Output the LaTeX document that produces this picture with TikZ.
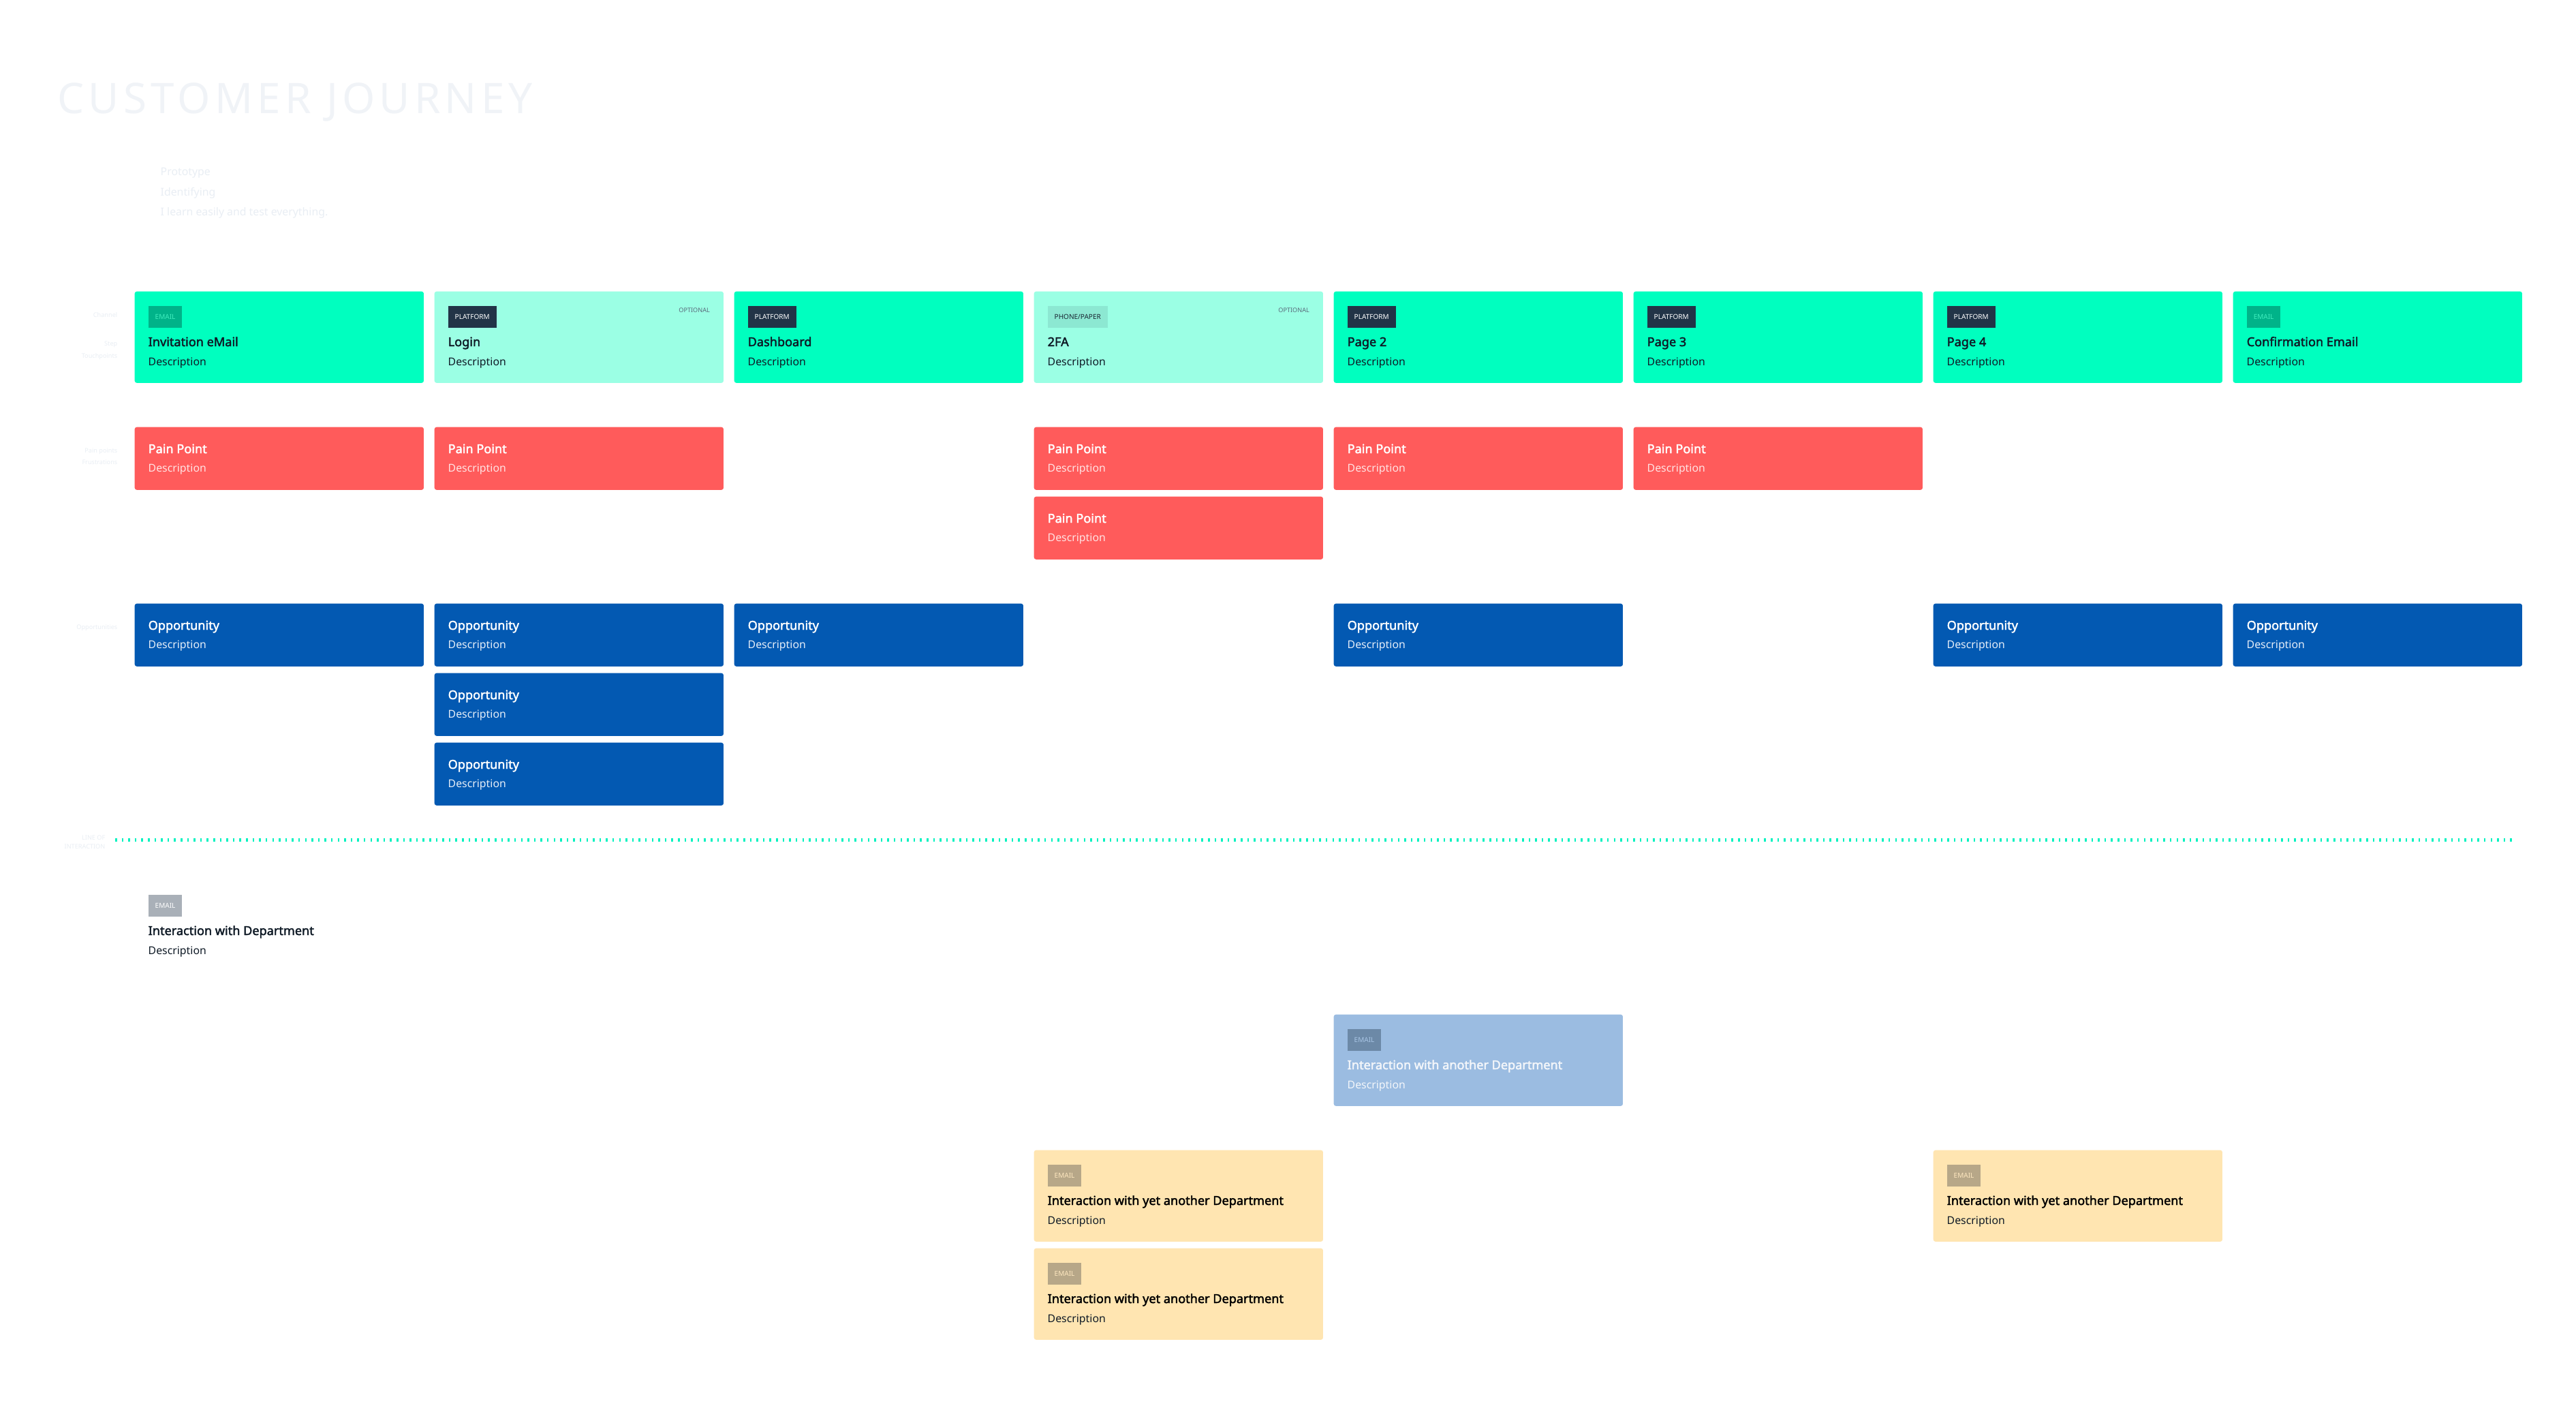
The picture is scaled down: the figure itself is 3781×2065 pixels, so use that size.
\documentclass[tikz,border=0pt]{standalone}
\usepackage{fontspec}
\setmainfont{Noto Sans}[BoldFont={Noto Sans}, BoldFeatures={FakeBold=2.2}]
\definecolor{tpgreen}{HTML}{00FFBF}
\definecolor{tplight}{HTML}{9BFFE4}
\definecolor{emailbg}{HTML}{00B389}
\definecolor{emailtx}{HTML}{40EDBE}
\definecolor{platbg}{HTML}{223447}
\definecolor{phonebg}{HTML}{8CE8D2}
\definecolor{phonetx}{HTML}{1A2733}
\definecolor{painred}{HTML}{FF5B5B}
\definecolor{paintx}{HTML}{FFE3E3}
\definecolor{oppblue}{HTML}{0359B2}
\definecolor{opptx}{HTML}{E6EEF8}
\definecolor{deptblue}{HTML}{9BBCE1}
\definecolor{deptbg}{HTML}{6C89A7}
\definecolor{depttx}{HTML}{A9C6E6}
\definecolor{deptttl}{HTML}{F3F6FA}
\definecolor{yel}{HTML}{FFE5B1}
\definecolor{yelbg}{HTML}{B7A788}
\definecolor{yeltx}{HTML}{FFE8C0}
\definecolor{graybg}{HTML}{A9B0B8}
\definecolor{darktx}{HTML}{0F1A26}
\definecolor{opttx}{HTML}{5A6B7B}
\definecolor{faint}{HTML}{E9EEF4}
\definecolor{dotcol}{HTML}{00F2C0}
\newcommand\ttlfont{\fontsize{5.15pt}{6pt}\selectfont\bfseries}
\newcommand\dscfont{\fontsize{4.5pt}{5.4pt}\selectfont}
\newcommand\tagfont{\fontsize{2.85pt}{3.4pt}\selectfont}
\newcommand\optfont{\fontsize{2.6pt}{3.1pt}\selectfont}
\newcommand\lblfont{\fontsize{2.6pt}{3.1pt}\selectfont}
\tikzset{
  card/.style={rounded corners=0.03cm, inner sep=0, minimum width=4.24cm, anchor=north west, draw=none},
  tpcard/.style={card, minimum height=1.34cm},
  smallcard/.style={card, minimum height=0.92cm},
  tagbox/.style={anchor=north west, inner xsep=0.1cm, inner ysep=0, minimum height=0.32cm, font=\tagfont, text height=2.1pt, text depth=0pt},
  ttl/.style={anchor=base west, inner sep=0, font=\ttlfont},
  dsc/.style={anchor=base west, inner sep=0, font=\dscfont},
  opt/.style={anchor=base east, inner sep=0, font=\optfont, text=opttx},
  lbl/.style={anchor=base east, inner sep=0, font=\lblfont, text=faint},
  dotline/.style={draw=dotcol, line width=0.05cm, dash pattern=on 0.025cm off 0.071cm},
}
% name, x, y, fill, tag style, tag text, title, title colour, desc colour
\newcommand\TPc[9]{%
  \node[tpcard, fill=#4] (#1) at (#2,#3) {};
  \node[tagbox, #5] (#1tag) at ([shift={(20,21)}]#1.north west) {#6};
  \node[ttl, text=#8] (#1ttl) at ([shift={(20,81)}]#1.north west) {#7};
  \node[dsc, text=#9] (#1dsc) at ([shift={(20,109)}]#1.north west) {Description};
}
% name, x, y, fill, title, title colour, desc colour
\newcommand\SMc[7]{%
  \node[smallcard, fill=#4] (#1) at (#2,#3) {};
  \node[ttl, text=#6] (#1ttl) at ([shift={(20,39)}]#1.north west) {#5};
  \node[dsc, text=#7] (#1dsc) at ([shift={(20,66)}]#1.north west) {Description};
}
\begin{document}
\begin{tikzpicture}[x=0.01cm, y=-0.01cm]
\useasboundingbox[fill=white] (0,0) rectangle (3781,2065);

% title and notes (very faint)
\node[anchor=base west, inner sep=0, text=faint!70!white, font=\fontsize{17.6pt}{20pt}\selectfont\addfontfeature{LetterSpace=10}] (title) at (84,166) {CUSTOMER JOURNEY};
\node[anchor=base west, inner sep=0, text=faint, font=\dscfont] (note1) at (235,257) {Prototype};
\node[anchor=base west, inner sep=0, text=faint, font=\dscfont] (note2) at (235,287) {Identifying};
\node[anchor=base west, inner sep=0, text=faint, font=\dscfont] (note3) at (235,316) {I learn easily and test everything.};

% row labels (very faint)
\node[lbl] (l1a) at (173,465) {Channel};
\node[lbl] (l1b) at (173,507) {Step};
\node[lbl] (l1c) at (173,525) {Touchpoints};
\node[lbl] (l2a) at (173,664) {Pain points};
\node[lbl] (l2b) at (173,681) {Frustrations};
\node[lbl] (l3a) at (173,923) {Opportunities};
\node[lbl] (l4a) at (155,1232) {LINE OF};
\node[lbl] (l4b) at (155,1245) {INTERACTION};

% touchpoints
\TPc{t1}{197}{427}{tpgreen}{fill=emailbg, text=emailtx}{EMAIL}{Invitation eMail}{darktx}{darktx}
\TPc{t2}{637}{427}{tplight}{fill=platbg, text=white}{PLATFORM}{Login}{darktx}{darktx}
\TPc{t3}{1077}{427}{tpgreen}{fill=platbg, text=white}{PLATFORM}{Dashboard}{darktx}{darktx}
\TPc{t4}{1517}{427}{tplight}{fill=phonebg, text=phonetx}{PHONE/PAPER}{2FA}{darktx}{darktx}
\TPc{t5}{1957}{427}{tpgreen}{fill=platbg, text=white}{PLATFORM}{Page 2}{darktx}{darktx}
\TPc{t6}{2397}{427}{tpgreen}{fill=platbg, text=white}{PLATFORM}{Page 3}{darktx}{darktx}
\TPc{t7}{2837}{427}{tpgreen}{fill=platbg, text=white}{PLATFORM}{Page 4}{darktx}{darktx}
\TPc{t8}{3277}{427}{tpgreen}{fill=emailbg, text=emailtx}{EMAIL}{Confirmation Email}{darktx}{darktx}
\node[opt] (t2opt) at ([shift={(-20,31)}]t2.north east) {OPTIONAL};
\node[opt] (t4opt) at ([shift={(-20,31)}]t4.north east) {OPTIONAL};

% pain points
\SMc{p1}{197}{626}{painred}{Pain Point}{white}{paintx}
\SMc{p2}{637}{626}{painred}{Pain Point}{white}{paintx}
\SMc{p4}{1517}{626}{painred}{Pain Point}{white}{paintx}
\SMc{p4b}{1517}{728}{painred}{Pain Point}{white}{paintx}
\SMc{p5}{1957}{626}{painred}{Pain Point}{white}{paintx}
\SMc{p6}{2397}{626}{painred}{Pain Point}{white}{paintx}

% opportunities
\SMc{o1}{197}{885}{oppblue}{Opportunity}{white}{opptx}
\SMc{o2}{637}{885}{oppblue}{Opportunity}{white}{opptx}
\SMc{o2b}{637}{987}{oppblue}{Opportunity}{white}{opptx}
\SMc{o2c}{637}{1089}{oppblue}{Opportunity}{white}{opptx}
\SMc{o3}{1077}{885}{oppblue}{Opportunity}{white}{opptx}
\SMc{o5}{1957}{885}{oppblue}{Opportunity}{white}{opptx}
\SMc{o7}{2837}{885}{oppblue}{Opportunity}{white}{opptx}
\SMc{o8}{3277}{885}{oppblue}{Opportunity}{white}{opptx}

% line of interaction
\coordinate (lineL) at (169,1232);
\coordinate (lineR) at (3690,1232);
\draw[dotline] (lineL) -- (lineR);

% departments
\TPc{d1}{197}{1291}{white}{fill=graybg, text=white}{EMAIL}{Interaction with Department}{darktx}{darktx}
\TPc{d2}{1957}{1488}{deptblue}{fill=deptbg, text=depttx}{EMAIL}{Interaction with another Department}{deptttl}{deptttl}
\TPc{y1}{1517}{1687}{yel}{fill=yelbg, text=yeltx}{EMAIL}{Interaction with yet another Department}{black}{darktx}
\TPc{y2}{1517}{1831}{yel}{fill=yelbg, text=yeltx}{EMAIL}{Interaction with yet another Department}{black}{darktx}
\TPc{y3}{2837}{1687}{yel}{fill=yelbg, text=yeltx}{EMAIL}{Interaction with yet another Department}{black}{darktx}
\end{tikzpicture}
\end{document}
